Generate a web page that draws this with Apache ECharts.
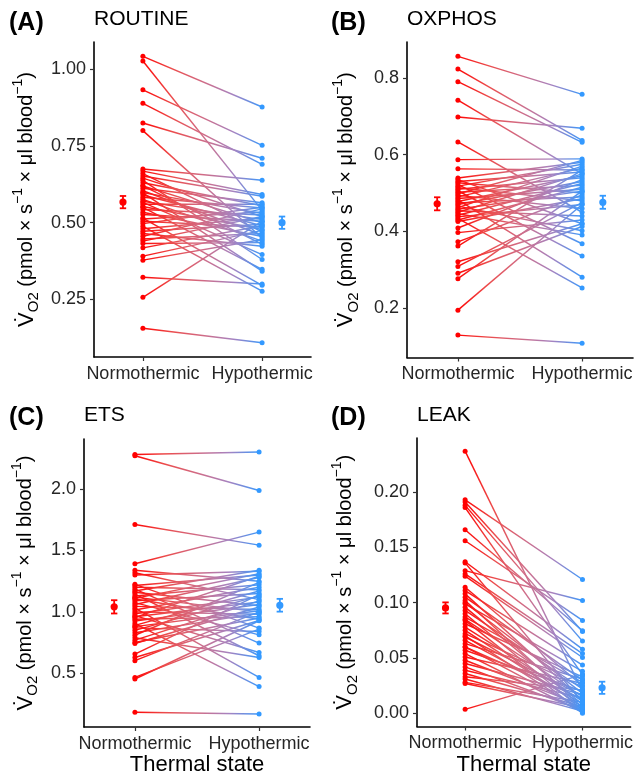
<!DOCTYPE html>
<html><head><meta charset="utf-8">
<script src="https://cdn.jsdelivr.net/npm/echarts@6/dist/echarts.min.js"></script>
<style>html,body{margin:0;padding:0;background:#fff}#c{width:636px;height:777px}</style>
</head><body><div id="c"></div>
<script>
const thermalStates = ['Normothermic', 'Hypothermic'];

// ROUTINE
const routineNormo = [1.042, 1.027, 0.933, 0.889, 0.825, 0.800, 0.675, 0.668, 0.660, 0.652, 0.645, 0.638, 0.630, 0.620, 0.620, 0.612, 0.604, 0.598, 0.597, 0.590, 0.583, 0.576, 0.570, 0.566, 0.560, 0.553, 0.550, 0.543, 0.534, 0.527, 0.515, 0.512, 0.505, 0.497, 0.488, 0.480, 0.472, 0.465, 0.456, 0.447, 0.440, 0.432, 0.418, 0.391, 0.378, 0.322, 0.257, 0.156];
const routineHypo = [0.877, 0.540, 0.752, 0.690, 0.710, 0.450, 0.638, 0.592, 0.470, 0.586, 0.520, 0.380, 0.555, 0.500, 0.430, 0.565, 0.460, 0.530, 0.342, 0.490, 0.548, 0.440, 0.510, 0.396, 0.560, 0.478, 0.348, 0.525, 0.455, 0.505, 0.296, 0.535, 0.485, 0.550, 0.277, 0.515, 0.495, 0.423, 0.545, 0.465, 0.520, 0.435, 0.490, 0.475, 0.445, 0.300, 0.505, 0.109];
const routineMean = [0.567, 0.500];
const routineSE = [0.020, 0.020];
const routineTicks = [0.25, 0.50, 0.75, 1.00];

// OXPHOS
const oxphosNormo = [0.856, 0.823, 0.790, 0.742, 0.698, 0.633, 0.587, 0.563, 0.539, 0.535, 0.530, 0.527, 0.522, 0.518, 0.514, 0.510, 0.506, 0.502, 0.498, 0.494, 0.490, 0.486, 0.482, 0.478, 0.474, 0.470, 0.466, 0.462, 0.458, 0.454, 0.450, 0.446, 0.442, 0.438, 0.434, 0.430, 0.426, 0.409, 0.397, 0.373, 0.362, 0.321, 0.309, 0.291, 0.277, 0.195, 0.130];
const oxphosHypo = [0.757, 0.637, 0.632, 0.550, 0.669, 0.450, 0.589, 0.560, 0.580, 0.420, 0.555, 0.500, 0.368, 0.575, 0.480, 0.540, 0.336, 0.520, 0.585, 0.460, 0.565, 0.510, 0.281, 0.545, 0.490, 0.530, 0.402, 0.570, 0.505, 0.440, 0.550, 0.391, 0.525, 0.470, 0.253, 0.515, 0.485, 0.535, 0.430, 0.495, 0.560, 0.420, 0.475, 0.413, 0.505, 0.470, 0.109];
const oxphosMean = [0.472, 0.476];
const oxphosSE = [0.017, 0.017];
const oxphosTicks = [0.2, 0.4, 0.6, 0.8];

// ETS
const etsNormo = [2.280, 2.270, 1.711, 1.392, 1.338, 1.319, 1.300, 1.224, 1.215, 1.200, 1.185, 1.170, 1.160, 1.145, 1.130, 1.120, 1.110, 1.105, 1.090, 1.075, 1.060, 1.045, 1.030, 1.015, 1.000, 0.985, 0.970, 0.960, 0.955, 0.940, 0.925, 0.905, 0.890, 0.880, 0.870, 0.850, 0.830, 0.810, 0.790, 0.770, 0.751, 0.743, 0.657, 0.629, 0.603, 0.467, 0.454, 0.183];
const etsHypo = [2.300, 1.987, 1.543, 1.649, 1.250, 1.100, 1.330, 0.868, 1.300, 1.180, 0.746, 1.338, 1.050, 0.643, 1.220, 1.000, 1.310, 0.940, 1.150, 0.813, 1.280, 1.020, 0.467, 1.200, 0.980, 1.120, 0.670, 1.080, 1.290, 0.960, 1.060, 0.392, 1.170, 1.010, 0.840, 1.130, 0.990, 1.240, 0.629, 1.090, 0.950, 1.040, 1.140, 0.930, 1.000, 0.860, 0.928, 0.170];
const etsMean = [1.041, 1.054];
const etsSE = [0.054, 0.052];
const etsTicks = [0.5, 1.0, 1.5, 2.0];

// LEAK
const leakNormo = [0.237, 0.193, 0.191, 0.188, 0.186, 0.166, 0.156, 0.137, 0.136, 0.129, 0.126, 0.124, 0.114, 0.111, 0.108, 0.105, 0.102, 0.100, 0.099, 0.096, 0.093, 0.090, 0.087, 0.085, 0.084, 0.081, 0.078, 0.075, 0.072, 0.070, 0.069, 0.066, 0.063, 0.060, 0.060, 0.057, 0.054, 0.051, 0.048, 0.045, 0.042, 0.039, 0.036, 0.033, 0.031, 0.028, 0.027, 0.0036];
const leakHypo = [0.020, 0.121, 0.074, 0.0653, 0.035, 0.0746, 0.084, 0.058, 0.010, 0.102, 0.054, 0.0505, 0.025, 0.0436, 0.012, 0.030, 0.005, 0.018, 0.038, 0.008, 0.022, 0.003, 0.028, 0.015, 0.000, 0.033, 0.011, 0.006, 0.024, 0.002, 0.016, 0.009, 0.031, 0.004, 0.013, 0.020, 0.001, 0.027, 0.007, 0.017, 0.003, 0.014, 0.006, 0.021, 0.002, 0.010, 0.005, 0.035];
const leakMean = [0.0953, 0.0231];
const leakSE = [0.0050, 0.0055];
const leakTicks = [0.00, 0.05, 0.10, 0.15, 0.20];

const FONT = '"Liberation Sans", Arial, Helvetica, sans-serif';
const RED = '#ff0000', BLUE = '#3399ff';
const TXT = '#262626';

const panels = [
  { normo: routineNormo, hypo: routineHypo, mean: routineMean, se: routineSE, ticks: routineTicks, dec: 2,
    ymin: 0.0624, ymax: 1.0887, grid: { left: 94, top: 42, width: 217, height: 315 },
    tag: '(A)', title: 'ROUTINE', tagX: 9, tagY: 23.5, titleY: 19.5, ytX: 26.5, bottom: false },
  { normo: oxphosNormo, hypo: oxphosHypo, mean: oxphosMean, se: oxphosSE, ticks: oxphosTicks, dec: 1,
    ymin: 0.0717, ymax: 0.8934, grid: { left: 407, top: 42, width: 226, height: 315.5 },
    tag: '(B)', title: 'OXPHOS', tagX: 331, tagY: 23.5, titleY: 19.5, ytX: 346, bottom: false },
  { normo: etsNormo, hypo: etsHypo, mean: etsMean, se: etsSE, ticks: etsTicks, dec: 1,
    ymin: 0.0635, ymax: 2.4065, grid: { left: 84, top: 439, width: 226, height: 288 },
    tag: '(C)', title: 'ETS', tagX: 9, tagY: 418, titleY: 415, ytX: 25.5, bottom: true },
  { normo: leakNormo, hypo: leakHypo, mean: leakMean, se: leakSE, ticks: leakTicks, dec: 2,
    ymin: -0.0119, ymax: 0.2489, grid: { left: 417, top: 438, width: 216, height: 288.5 },
    tag: '(D)', title: 'LEAK', tagX: 331, tagY: 418, titleY: 415, ytX: 345, bottom: true }
];

function grad() {
  return new echarts.graphic.LinearGradient(0, 0, 1, 0, [
    { offset: 0, color: RED },
    { offset: 0.25, color: '#ec4b4b' },
    { offset: 0.5, color: '#d16b85' },
    { offset: 0.75, color: '#a583c1' },
    { offset: 1, color: BLUE }
  ]);
}

const grids = [], xAxes = [], yAxes = [], series = [], graphics = [];

panels.forEach((p, k) => {
  grids.push(Object.assign({ containLabel: false }, p.grid));
  xAxes.push({
    gridIndex: k, type: 'value', min: 0.59, max: 2.41,
    axisLine: { show: true, onZero: false, lineStyle: { color: '#000', width: 1.6 } },
    axisTick: { show: true, customValues: [1, 2], length: 4, lineStyle: { color: '#333', width: 1.2 } },
    axisLabel: { show: true, customValues: [1, 2], formatter: v => thermalStates[Math.round(v) - 1],
      fontSize: 18, color: TXT, fontFamily: FONT, margin: 8 },
    splitLine: { show: false },
    name: p.bottom ? 'Thermal state' : '', nameLocation: 'middle', nameGap: 27,
    nameTextStyle: { fontSize: 22, color: '#000', fontFamily: FONT }
  });
  yAxes.push({
    gridIndex: k, type: 'value', min: p.ymin, max: p.ymax,
    axisLine: { show: true, onZero: false, lineStyle: { color: '#000', width: 1.6 } },
    axisTick: { show: true, customValues: p.ticks, length: 4, lineStyle: { color: '#333', width: 1.2 } },
    axisLabel: { show: true, customValues: p.ticks, formatter: v => Number(v).toFixed(p.dec),
      fontSize: 18, color: TXT, fontFamily: FONT, margin: 8 },
    splitLine: { show: false }
  });
  p.normo.forEach((n, i) => {
    series.push({
      type: 'line', xAxisIndex: k, yAxisIndex: k, silent: true, animation: false,
      symbol: 'circle', symbolSize: 5, showSymbol: true,
      lineStyle: { width: 1.45, color: grad() },
      data: [
        { value: [1, n], itemStyle: { color: RED } },
        { value: [2, p.hypo[i]], itemStyle: { color: BLUE } }
      ]
    });
  });
  series.push({
    type: 'custom', xAxisIndex: k, yAxisIndex: k, silent: true, animation: false, z: 5,
    data: [[0.833, p.mean[0], p.se[0], 0], [2.167, p.mean[1], p.se[1], 1]],
    renderItem: (params, api) => {
      const x = api.value(0), m = api.value(1), s = api.value(2);
      const col = api.value(3) === 0 ? RED : BLUE;
      const pm = api.coord([x, m]);
      const lo = api.coord([x, m - s]);
      const hi = api.coord([x, m + s]);
      const st = { stroke: col, lineWidth: 1.8 };
      return { type: 'group', children: [
        { type: 'line', shape: { x1: pm[0], y1: lo[1], x2: pm[0], y2: hi[1] }, style: st },
        { type: 'line', shape: { x1: pm[0] - 3.2, y1: lo[1], x2: pm[0] + 3.2, y2: lo[1] }, style: st },
        { type: 'line', shape: { x1: pm[0] - 3.2, y1: hi[1], x2: pm[0] + 3.2, y2: hi[1] }, style: st },
        { type: 'circle', shape: { cx: pm[0], cy: pm[1], r: 3.6 }, style: { fill: col } }
      ]};
    }
  });
  graphics.push({ type: 'text', x: p.tagX, y: p.tagY,
    style: { text: p.tag, font: 'bold 25px ' + FONT, fill: '#000', align: 'left', verticalAlign: 'middle' } });
  graphics.push({ type: 'text', x: p.grid.left, y: p.titleY,
    style: { text: p.title, font: '21px ' + FONT, fill: '#000', align: 'left', verticalAlign: 'middle' } });
  graphics.push({ type: 'text', x: p.ytX, y: p.grid.top + p.grid.height / 2, rotation: Math.PI / 2,
    style: {
      text: '{v|V\u0307}{sub|O2}{m| (pmol × s}{sup|\u22121}{m| × μl blood}{sup|\u22121}{m|)}',
      align: 'center', verticalAlign: 'middle', fill: '#000',
      rich: {
        v: { fontSize: 22, fontFamily: FONT, fill: '#000', lineHeight: 30, verticalAlign: 'middle' },
        m: { fontSize: 20, fontFamily: FONT, fill: '#000', lineHeight: 30, verticalAlign: 'middle' },
        sup: { fontSize: 14, fontFamily: FONT, fill: '#000', lineHeight: 14, verticalAlign: 'top' },
        sub: { fontSize: 15, fontFamily: FONT, fill: '#000', lineHeight: 12, verticalAlign: 'bottom' }
      }
    } });
});

const chart = echarts.init(document.getElementById('c'), null, { renderer: 'canvas' });
chart.setOption({
  backgroundColor: '#fff',
  animation: false,
  grid: grids, xAxis: xAxes, yAxis: yAxes, series: series, graphic: graphics
});
</script></body></html>
